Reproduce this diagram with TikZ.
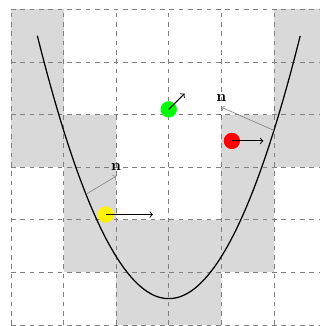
\documentclass[tikz,border=0pt]{standalone}
\usetikzlibrary{positioning}

\begin{document}
\begin{tikzpicture}[x=1.19cm, y=1.19cm,
    dot/.style={circle, inner sep=0pt, minimum size=0.37cm},
    normal/.style={->, gray},
    vel/.style={->, semithick}]
    \useasboundingbox (-0.21,-0.02) rectangle (5.875,6.18);

    % cells hit by the curve
    \foreach \i/\j in {0/5,5/5,0/4,5/4,0/3,1/3,4/3,5/3,1/2,4/2,1/1,2/1,3/1,4/1,2/0,3/0}
        \fill[gray!30] (\i,\j) rectangle ++(1,1);
    \draw[dashed, gray, step=1.19cm] (0,0) grid (6,6);

    \draw[thick, domain=0.5:5.5, samples=80] plot (\x, {0.5+0.8*(\x-3)^2});

    \node (nleft) at (2.0,3.0) {$\mathbf{n}$};
    \node (nright) at (4.0,4.31) {$\mathbf{n}$};
    \coordinate (cleft) at (1.45,2.5);
    \coordinate (cright) at (5.0,3.7);
    \draw[normal] (cleft) -- (nleft.south);
    \draw[normal] (cright) -- (nright.south);

    \node[dot, fill=yellow] (pyellow) at (1.8,2.1) {};
    \node[dot, fill=red] (pred) at (4.2,3.5) {};
    \node[dot, fill=green] (pgreen) at (3.0,4.1) {};
    \coordinate (vyellow) at (2.7,2.1);
    \coordinate (vred) at (4.8,3.5);
    \coordinate (vgreen) at (3.3,4.4);
    \draw[vel] (pyellow.center) -- (vyellow);
    \draw[vel] (pred.center) -- (vred);
    \draw[vel] (pgreen.center) -- (vgreen);
\end{tikzpicture}
\end{document}
